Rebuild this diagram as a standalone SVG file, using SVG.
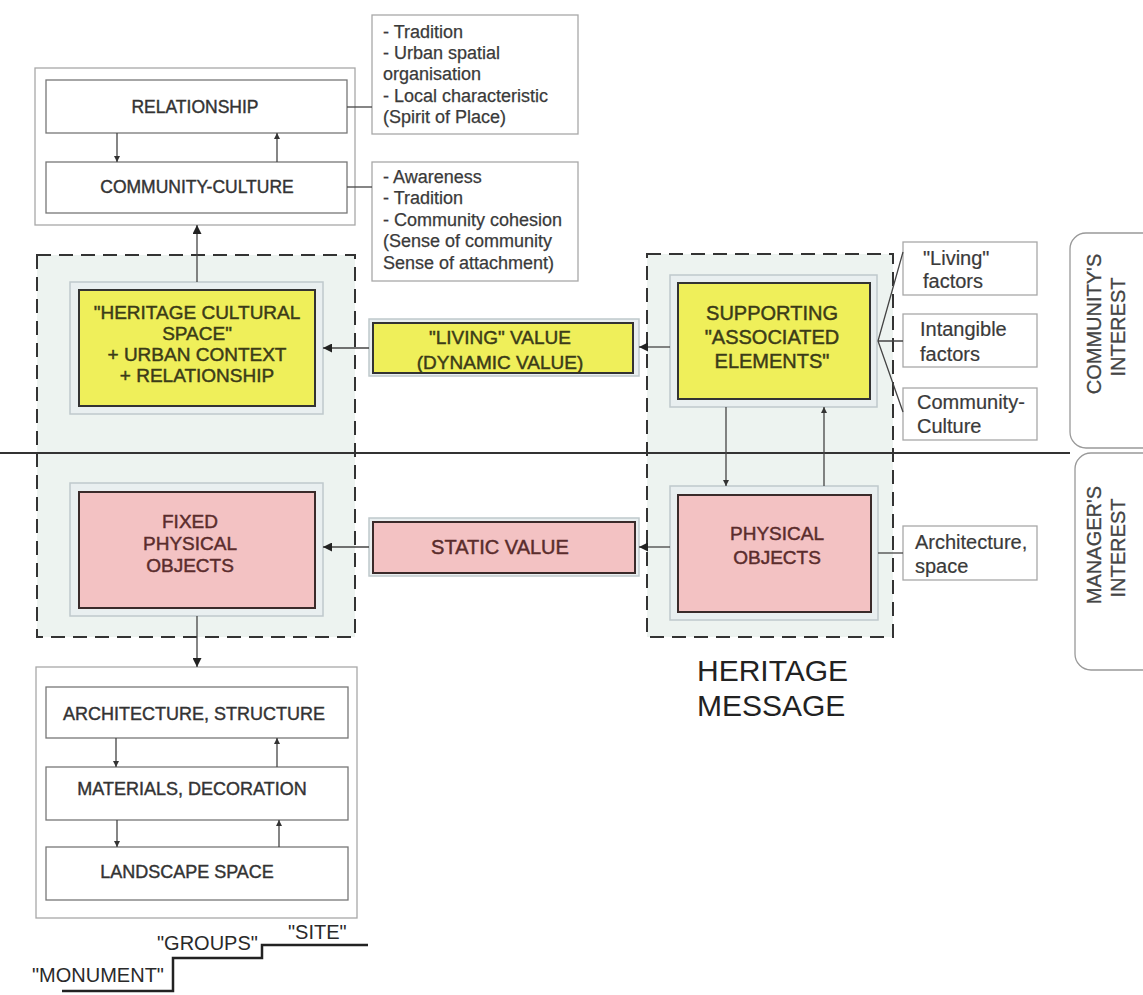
<svg xmlns="http://www.w3.org/2000/svg" width="1143" height="995" viewBox="0 0 1143 995">
<defs>
<style>
text{font-family:"Liberation Sans",Arial,sans-serif;fill:#333}
.c{text-anchor:middle}
.lbl{font-size:17.5px;fill:#333;stroke:#333;stroke-width:0.4}
.lst{font-size:18px;fill:#3a3a3a;stroke:#3a3a3a;stroke-width:0.25}
.fac{font-size:20px;fill:#3a3a3a;stroke:#3a3a3a;stroke-width:0.2}
.yl{font-size:19px;fill:#3b3b18;stroke:#3b3b18;stroke-width:0.45;text-anchor:middle}
.pk{font-size:19px;fill:#5a2c2c;stroke:#5a2c2c;stroke-width:0.45;text-anchor:middle}
.rot{font-size:20px;fill:#444;stroke:#444;stroke-width:0.3;text-anchor:middle}
.wbox{fill:#fff;stroke:#777;stroke-width:1.3}
.cont{fill:#fff;stroke:#a8a8a8;stroke-width:1.3}
.tbox{fill:#fff;stroke:#a8a8a8;stroke-width:1.3}
.dash{fill:#edf3f0;stroke:#333;stroke-width:2;stroke-dasharray:14 8}
.lite{fill:#e9eff0;stroke:#bfc9cc;stroke-width:1.5}
.yel{fill:#efef5a;stroke:#333;stroke-width:2}
.pink{fill:#f3c2c3;stroke:#3a2a2a;stroke-width:2}
.ln{fill:none;stroke:#444;stroke-width:1.3}
.rr{fill:#fff;stroke:#999;stroke-width:1.3}
</style>
<marker id="ah" viewBox="0 0 10 10" refX="10" refY="5" markerWidth="10" markerHeight="9" markerUnits="userSpaceOnUse" orient="auto">
<path d="M0,0 L10,5 L0,10 z" fill="#222"/>
</marker>
<marker id="as" viewBox="0 0 10 10" refX="10" refY="5" markerWidth="6" markerHeight="6" markerUnits="userSpaceOnUse" orient="auto">
<path d="M0,0 L10,5 L0,10 z" fill="#333"/>
</marker>
</defs>
<rect width="1143" height="995" fill="#fff"/>

<!-- dashed regions -->
<g id="region-left"><rect class="dash" x="37" y="255" width="318" height="382"/></g>
<g id="region-right"><rect class="dash" x="647" y="254" width="246" height="383"/></g>

<!-- divider -->
<line x1="0" y1="453" x2="1070" y2="453" stroke="#333" stroke-width="2"/>

<!-- top container -->
<g id="top-container">
<rect class="cont" x="35" y="68" width="320" height="157"/>
</g>
<g id="relationship">
<rect class="wbox" x="46" y="80" width="301" height="53"/>
<text class="lbl c" x="195" y="113">RELATIONSHIP</text>
</g>
<g id="community-culture">
<rect class="wbox" x="46" y="162" width="301" height="51"/>
<text class="lbl c" x="197" y="193">COMMUNITY-CULTURE</text>
</g>
<g id="list-relationship">
<rect class="tbox" x="372" y="15" width="206" height="119"/>
<text class="lst" x="383" y="38">- Tradition</text>
<text class="lst" x="383" y="59">- Urban spatial</text>
<text class="lst" x="383" y="80">organisation</text>
<text class="lst" x="383" y="102">- Local characteristic</text>
<text class="lst" x="383" y="123">(Spirit of Place)</text>
</g>
<g id="list-community">
<rect class="tbox" x="372" y="162" width="206" height="119"/>
<text class="lst" x="383" y="183">- Awareness</text>
<text class="lst" x="383" y="204">- Tradition</text>
<text class="lst" x="383" y="226">- Community cohesion</text>
<text class="lst" x="383" y="247">(Sense of community</text>
<text class="lst" x="383" y="269">Sense of attachment)</text>
</g>

<!-- heritage cultural space -->
<g id="heritage-cultural-space">
<rect class="lite" x="70" y="282" width="253" height="132"/>
<rect class="yel" x="79" y="290" width="236" height="116"/>
<text class="yl" x="197" y="319">"HERITAGE CULTURAL</text>
<text class="yl" x="197" y="340">SPACE"</text>
<text class="yl" x="197" y="361">+ URBAN CONTEXT</text>
<text class="yl" x="197" y="382">+ RELATIONSHIP</text>
</g>
<g id="living-value">
<rect class="lite" x="369" y="319" width="270" height="57"/>
<rect class="yel" x="373" y="323" width="260" height="50"/>
<text class="yl" x="500" y="344">"LIVING" VALUE</text>
<text class="yl" x="500" y="369">(DYNAMIC VALUE)</text>
</g>
<g id="supporting">
<rect class="lite" x="670" y="275" width="207" height="132"/>
<rect class="yel" x="678" y="283" width="192" height="116"/>
<text class="yl" x="772" y="320" style="font-size:20px">SUPPORTING</text>
<text class="yl" x="772" y="344" style="font-size:20px">"ASSOCIATED</text>
<text class="yl" x="772" y="368" style="font-size:20px">ELEMENTS"</text>
</g>
<g id="living-factors">
<rect class="tbox" x="903" y="242" width="134" height="53"/>
<text class="fac" x="923" y="265">"Living"</text>
<text class="fac" x="923" y="288">factors</text>
</g>
<g id="intangible-factors">
<rect class="tbox" x="903" y="314" width="134" height="53"/>
<text class="fac" x="920" y="336">Intangible</text>
<text class="fac" x="920" y="361">factors</text>
</g>
<g id="community-culture-factor">
<rect class="tbox" x="903" y="388" width="134" height="52"/>
<text class="fac" x="917" y="409">Community-</text>
<text class="fac" x="917" y="433">Culture</text>
</g>

<!-- lower row -->
<g id="fixed-physical-objects">
<rect class="lite" x="70" y="483" width="253" height="133"/>
<rect class="pink" x="79" y="492" width="236" height="116"/>
<text class="pk" x="190" y="528">FIXED</text>
<text class="pk" x="190" y="550">PHYSICAL</text>
<text class="pk" x="190" y="572">OBJECTS</text>
</g>
<g id="static-value">
<rect class="lite" x="369" y="518" width="270" height="58"/>
<rect class="pink" x="373" y="522" width="262" height="51"/>
<text class="pk" x="500" y="554" style="font-size:20px">STATIC VALUE</text>
</g>
<g id="physical-objects">
<rect class="lite" x="670" y="486" width="208" height="134"/>
<rect class="pink" x="678" y="495" width="193" height="117"/>
<text class="pk" x="777" y="540">PHYSICAL</text>
<text class="pk" x="777" y="564">OBJECTS</text>
</g>
<g id="architecture-space">
<rect class="tbox" x="903" y="526" width="134" height="54"/>
<text class="fac" x="915" y="549">Architecture,</text>
<text class="fac" x="915" y="573">space</text>
</g>

<!-- interest labels -->
<g id="community-interest">
<rect class="rr" x="1070" y="233" width="90" height="215" rx="16"/>
<text class="rot" transform="translate(1100.5,324) rotate(-90)">COMMUNITY'S</text>
<text class="rot" transform="translate(1124.5,327) rotate(-90)">INTEREST</text>
</g>
<g id="manager-interest">
<rect class="rr" x="1075" y="453" width="85" height="217" rx="16"/>
<text class="rot" transform="translate(1100.5,545) rotate(-90)">MANAGER'S</text>
<text class="rot" transform="translate(1125,548) rotate(-90)">INTEREST</text>
</g>

<g id="heritage-message">
<text x="697" y="681" style="font-size:30px;fill:#222">HERITAGE</text>
<text x="697" y="716" style="font-size:30px;fill:#222">MESSAGE</text>
</g>

<!-- bottom container -->
<g id="bottom-container">
<rect class="cont" x="36" y="667" width="321" height="251"/>
</g>
<g id="architecture-structure">
<rect class="wbox" x="46" y="687" width="302" height="51"/>
<text class="lbl c" x="194" y="719.5" style="font-size:18px">ARCHITECTURE, STRUCTURE</text>
</g>
<g id="materials-decoration">
<rect class="wbox" x="46" y="767" width="302" height="53"/>
<text class="lbl c" x="192" y="794.5" style="font-size:18px">MATERIALS, DECORATION</text>
</g>
<g id="landscape-space">
<rect class="wbox" x="46" y="847" width="302" height="53"/>
<text class="lbl c" x="187" y="877.5" style="font-size:18px">LANDSCAPE SPACE</text>
</g>

<!-- scale steps -->
<g id="scale-steps">
<path d="M62 991 H173 V958 H262 V945 H368" fill="none" stroke="#222" stroke-width="2.5"/>
<text x="32" y="982" style="font-size:20px;fill:#2a2a2a">"MONUMENT"</text>
<text x="157" y="950" style="font-size:20px;fill:#2a2a2a">"GROUPS"</text>
<text x="288" y="939" style="font-size:20px;fill:#2a2a2a">"SITE"</text>
</g>

<!-- connectors -->
<g id="connectors">
<line class="ln" x1="117" y1="133" x2="117" y2="162" marker-end="url(#as)"/>
<line class="ln" x1="277" y1="162" x2="277" y2="133" marker-end="url(#as)"/>
<line class="ln" x1="347" y1="107" x2="372" y2="107"/>
<line class="ln" x1="347" y1="187" x2="372" y2="187"/>
<line class="ln" x1="197" y1="282" x2="197" y2="225" marker-end="url(#ah)"/>
<line class="ln" x1="369" y1="348" x2="323" y2="348" marker-end="url(#ah)"/>
<line class="ln" x1="670" y1="347" x2="639" y2="347" marker-end="url(#ah)"/>
<line class="ln" x1="369" y1="547" x2="323" y2="547" marker-end="url(#ah)"/>
<line class="ln" x1="670" y1="547" x2="639" y2="547" marker-end="url(#ah)"/>
<line class="ln" x1="726" y1="407" x2="726" y2="486" marker-end="url(#as)"/>
<line class="ln" x1="824" y1="486" x2="824" y2="407" marker-end="url(#as)"/>
<path class="ln" d="M903 252 L878 341 L903 412 M878 341 H903"/>
<line class="ln" x1="878" y1="553" x2="903" y2="553"/>
<line class="ln" x1="197" y1="616" x2="197" y2="667" marker-end="url(#ah)"/>
<line class="ln" x1="116" y1="738" x2="116" y2="767" marker-end="url(#as)"/>
<line class="ln" x1="277" y1="767" x2="277" y2="738" marker-end="url(#as)"/>
<line class="ln" x1="117" y1="820" x2="117" y2="847" marker-end="url(#as)"/>
<line class="ln" x1="279" y1="847" x2="279" y2="820" marker-end="url(#as)"/>
</g>
</svg>
